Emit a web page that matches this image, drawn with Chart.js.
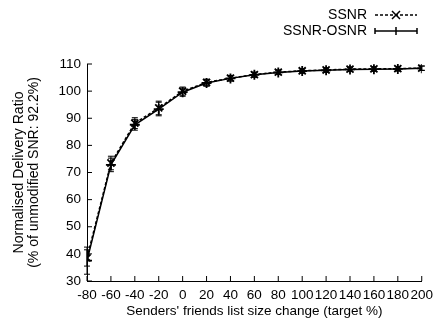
<!DOCTYPE html>
<html>
<head>
<meta charset="utf-8">
<script src="https://cdn.jsdelivr.net/npm/chart.js@4/dist/chart.umd.min.js"></script>
<style>
  body { margin: 0; background: #fff; }
  canvas { display: block; }
</style>
</head>
<body>
<canvas id="grafico" width="439" height="325"></canvas>
<script>
const xValues = [-80, -60, -40, -20, 0, 20, 40, 60, 80, 100, 120, 140, 160, 180, 200];
const ssnr = [38.5, 73.5, 88.2, 93.8, 100.0, 103.2, 104.8, 106.1, 107.0, 107.5, 107.8, 108.1, 108.2, 108.3, 108.5];
const ssnrErr = [3.0, 2.5, 2.0, 2.5, 1.5, 1.2, 1.0, 0.9, 0.8, 0.8, 0.8, 0.8, 0.8, 0.8, 0.8];
const osnr = [37.5, 72.8, 87.6, 93.4, 99.6, 103.0, 104.7, 106.0, 106.9, 107.4, 107.7, 108.0, 108.1, 108.2, 108.4];
const osnrErr = [5.0, 2.5, 2.0, 2.5, 1.5, 1.2, 1.0, 0.9, 0.8, 0.8, 0.8, 0.8, 0.8, 0.8, 0.8];

const fuente = "'Liberation Sans', Arial, sans-serif";

const extras = {
    id: 'extras',
    afterDatasetsDraw(chart) {
        const ctx = chart.ctx;
        const x = chart.scales.x, y = chart.scales.y;
        ctx.save();
        ctx.strokeStyle = '#000';
        ctx.lineWidth = 1;
        // barras de error
        [[ssnr, ssnrErr], [osnr, osnrErr]].forEach(([vals, errs]) => {
            vals.forEach((v, i) => {
                const px = x.getPixelForValue(xValues[i]);
                const top = y.getPixelForValue(v + errs[i]);
                const bot = y.getPixelForValue(v - errs[i]);
                ctx.beginPath();
                ctx.moveTo(px, top); ctx.lineTo(px, bot);
                ctx.moveTo(px - 3, top); ctx.lineTo(px + 3, top);
                ctx.moveTo(px - 3, bot); ctx.lineTo(px + 3, bot);
                ctx.stroke();
            });
        });
        // ticks hacia dentro
        ctx.beginPath();
        x.ticks.forEach(t => {
            const px = x.getPixelForValue(t.value);
            ctx.moveTo(px, y.bottom); ctx.lineTo(px, y.bottom - 5);
        });
        y.ticks.forEach(t => {
            const py = y.getPixelForValue(t.value);
            ctx.moveTo(x.left, py); ctx.lineTo(x.left + 5, py);
        });
        ctx.stroke();

        // leyenda
        ctx.font = '14px ' + fuente;
        ctx.fillStyle = '#000';
        ctx.textAlign = 'right';
        ctx.textBaseline = 'middle';
        const items = [
            { label: 'SSNR', y: 15, dash: [3, 2], mark: 'x' },
            { label: 'SSNR-OSNR', y: 31, dash: [], mark: '+' }
        ];
        items.forEach(it => {
            ctx.fillText(it.label, 367, it.y);
            ctx.setLineDash(it.dash);
            ctx.lineWidth = 1.3;
            ctx.beginPath();
            ctx.moveTo(375, it.y); ctx.lineTo(417, it.y);
            ctx.stroke();
            ctx.setLineDash([]);
            ctx.lineWidth = 1.5;
            ctx.beginPath();
            if (it.mark === 'x') {
                ctx.moveTo(392, it.y - 4); ctx.lineTo(400, it.y + 4);
                ctx.moveTo(392, it.y + 4); ctx.lineTo(400, it.y - 4);
            } else {
                ctx.moveTo(396, it.y - 4); ctx.lineTo(396, it.y + 4);
                ctx.moveTo(375, it.y - 3); ctx.lineTo(375, it.y + 3);
                ctx.moveTo(417, it.y - 3); ctx.lineTo(417, it.y + 3);
            }
            ctx.stroke();
        });
        ctx.restore();
    }
};

new Chart("grafico", {
    type: "line",
    data: {
        labels: xValues,
        datasets: [{
            label: 'SSNR',
            data: xValues.map((v, i) => ({ x: v, y: ssnr[i] })),
            borderColor: '#000',
            borderWidth: 1.5,
            borderDash: [3, 2],
            pointStyle: 'crossRot',
            pointRadius: 5,
            pointBorderWidth: 1.8,
            pointBorderColor: '#000',
            fill: false,
            tension: 0
        }, {
            label: 'SSNR-OSNR',
            data: xValues.map((v, i) => ({ x: v, y: osnr[i] })),
            borderColor: '#000',
            borderWidth: 1.5,
            pointStyle: 'cross',
            pointRadius: 5,
            pointBorderWidth: 1.8,
            pointBorderColor: '#000',
            fill: false,
            tension: 0
        }]
    },
    options: {
        responsive: false,
        animation: false,
        layout: { padding: { top: 64, right: 13, left: 0, bottom: 0 } },
        plugins: { legend: { display: false }, tooltip: { enabled: false } },
        scales: {
            x: {
                type: 'linear',
                min: -80, max: 200,
                afterFit: s => { s.height = 44; },
                grid: { display: false, drawTicks: false },
                border: { display: true, color: '#000', width: 1 },
                ticks: { stepSize: 20, color: '#000', padding: 6, maxRotation: 0, autoSkip: false, font: { family: fuente, size: 13.5 } },
                title: { display: true, text: "Senders' friends list size change (target %)", color: '#000', padding: { top: 0, bottom: 6 }, font: { family: fuente, size: 13.5, lineHeight: 1.1 } }
            },
            y: {
                min: 30, max: 110,
                afterFit: s => { s.width = 87; },
                grid: { display: false, drawTicks: false },
                border: { display: true, color: '#000', width: 1 },
                ticks: { stepSize: 10, color: '#000', padding: 6, font: { family: fuente, size: 13.5 } },
                title: { display: true, text: ['Normalised Delivery Ratio', '(% of unmodified SNR: 92.2%)'], color: '#000', padding: { top: 11, bottom: 0 }, font: { family: fuente, size: 14, lineHeight: 1.1 } }
            }
        }
    },
    plugins: [extras]
});
</script>
</body>
</html>
